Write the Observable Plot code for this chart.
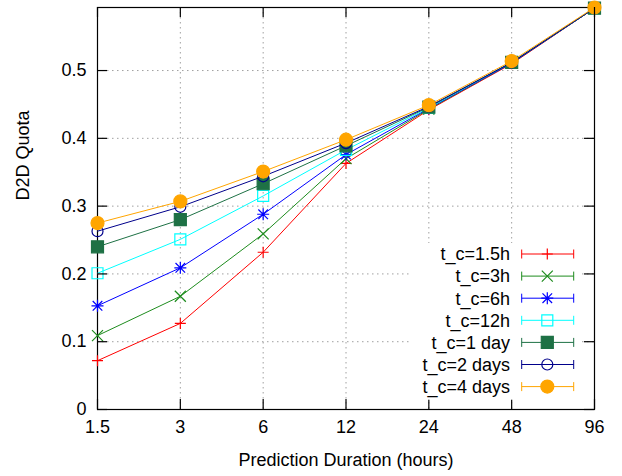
<!DOCTYPE html>
<html><head><meta charset="utf-8">
<script src="https://cdn.jsdelivr.net/npm/d3@7"></script>
<script src="https://cdn.jsdelivr.net/npm/@observablehq/plot@0.6"></script>
<style>
body{margin:0;background:#fff;}
#chart{position:relative;width:622px;height:476px;}
</style>
</head><body><div id="chart"></div>
<script>
// ---- data ----
const durations = [1.5, 3, 6, 12, 24, 48, 96];
const seriesNames = ["t_c=1.5h", "t_c=3h", "t_c=6h", "t_c=12h", "t_c=1 day", "t_c=2 days", "t_c=4 days"];
const quota_1_5h  = [0.072, 0.127, 0.232, 0.363, 0.442, 0.510, 0.592];
const quota_3h    = [0.109, 0.167, 0.259, 0.370, 0.443, 0.511, 0.592];
const quota_6h    = [0.153, 0.209, 0.288, 0.376, 0.444, 0.511, 0.592];
const quota_12h   = [0.201, 0.251, 0.315, 0.383, 0.445, 0.512, 0.592];
const quota_1day  = [0.240, 0.280, 0.333, 0.389, 0.446, 0.512, 0.592];
const quota_2days = [0.263, 0.299, 0.344, 0.393, 0.447, 0.512, 0.592];
const quota_4days = [0.275, 0.307, 0.351, 0.398, 0.449, 0.514, 0.593];
const xTickLabels = ["1.5", "3", "6", "12", "24", "48", "96"];
const yTicks = [0, 0.1, 0.2, 0.3, 0.4, 0.5];
const yTickLabels = ["0", "0.1", "0.2", "0.3", "0.4", "0.5"];
const xLabel = "Prediction Duration (hours)";
const yLabel = "D2D Quota";

// ---- styles / layout ----
const W = 622, H = 476, ML = 97, MR = 28, MT = 7, MB = 67;
const frameW = W - ML - MR, frameH = H - MT - MB, tickLen = 10;
const colors = ["#ff0000", "#1e8c1e", "#0000ff", "#00ffff", "#1e7145", "#00008b", "#ffa500"];
const symDefs = {
  plus: {draw(c, s){const h=Math.sqrt(s/Math.PI); c.moveTo(-h,0); c.lineTo(h,0); c.moveTo(0,-h); c.lineTo(0,h);}},
  times: {draw(c, s){const h=Math.sqrt(s/Math.PI); c.moveTo(-h,-h); c.lineTo(h,h); c.moveTo(-h,h); c.lineTo(h,-h);}},
  star: {draw(c, s){const h=Math.sqrt(s/Math.PI); const d=h*0.8; c.moveTo(-h,0); c.lineTo(h,0); c.moveTo(0,-h); c.lineTo(0,h); c.moveTo(-d,-d); c.lineTo(d,d); c.moveTo(-d,d); c.lineTo(d,-d);}},
  square: {draw(c, s){const h=Math.sqrt(s/Math.PI); c.moveTo(-h,-h); c.lineTo(h,-h); c.lineTo(h,h); c.lineTo(-h,h); c.closePath();}},
  circle: {draw(c, s){const h=Math.sqrt(s/Math.PI); c.moveTo(h,0); c.arc(0,0,h,0,2*Math.PI);}}
};
const markerStyles = [
  {symbol: symDefs.plus,   r: 5.5, filled: false},
  {symbol: symDefs.times,  r: 5.5, filled: false},
  {symbol: symDefs.star,   r: 6,   filled: false},
  {symbol: symDefs.square, r: 5.5, filled: false},
  {symbol: symDefs.square, r: 6,   filled: true},
  {symbol: symDefs.circle, r: 5.5, filled: false},
  {symbol: symDefs.circle, r: 6.5, filled: true}
];
const allSeries = [quota_1_5h, quota_3h, quota_6h, quota_12h, quota_1day, quota_2days, quota_4days];
const rows = allSeries.map((vals, si) => vals.map((v, i) => ({series: seriesNames[si], x: durations[i], y: v})));

const font = "'Liberation Sans', Arial, Helvetica, sans-serif";
const gridStyle = {stroke: "#a0a0a0", strokeOpacity: 1, strokeWidth: 1, strokeDasharray: "1.5,3.5"};
const tickStyle = {stroke: "#000", strokeWidth: 1.2};

const seriesMarks = rows.flatMap((data, si) => {
  const m = markerStyles[si];
  return [
    Plot.line(data, {x: "x", y: "y", stroke: colors[si], strokeWidth: 1}),
    Plot.dot(data, {x: "x", y: "y", symbol: m.symbol, r: m.r,
      fill: m.filled ? colors[si] : "none", stroke: colors[si], strokeWidth: 1.2})
  ];
});

const plot = Plot.plot({
  width: W, height: H,
  marginLeft: ML, marginRight: MR, marginTop: MT, marginBottom: MB,
  style: {fontFamily: font, fontSize: "18px", color: "#000", background: "#fff"},
  x: {type: "log", domain: [1.5, 96], axis: null},
  y: {domain: [0, 0.593], axis: null},
  marks: [
    Plot.gridX(durations, {x: (d) => d, ...gridStyle}),
    Plot.gridY(yTicks.slice(1), {y: (d) => d, ...gridStyle}),
    Plot.frame({stroke: "#000", strokeWidth: 1.2}),
    ...seriesMarks,
    // inward ticks on all four sides
    Plot.tickX(durations, {x: (d) => d, insetTop: frameH - tickLen, ...tickStyle}),
    Plot.tickX(durations, {x: (d) => d, insetBottom: frameH - tickLen, ...tickStyle}),
    Plot.tickY(yTicks, {y: (d) => d, insetRight: frameW - tickLen, ...tickStyle}),
    Plot.tickY(yTicks, {y: (d) => d, insetLeft: frameW - tickLen, ...tickStyle}),
    // tick labels
    Plot.text(durations, {x: (d) => d, frameAnchor: "bottom", dy: 23.5,
      text: (d, i) => xTickLabels[i], fill: "#000", fontSize: 18}),
    Plot.text(yTicks, {y: (d) => d, frameAnchor: "left", dx: -11, textAnchor: "end",
      text: (d, i) => yTickLabels[i], fill: "#000", fontSize: 18}),
    // axis titles
    Plot.text([xLabel], {frameAnchor: "bottom", dy: 56, text: (d) => d, fill: "#000", fontSize: 18}),
    Plot.text([yLabel], {frameAnchor: "left", dx: -74, dy: -8, rotate: -90, text: (d) => d, fill: "#000", fontSize: 18})
  ]
});

// ---- legend (gnuplot-style key with errorbar samples) ----
const svg = d3.select(plot);
const key = svg.append("g").attr("font-family", font).attr("font-size", 18);
const keyTop = 243, rowH = 22.1, firstRow = 254;
key.append("rect").attr("x", 410).attr("y", keyTop).attr("width", 170)
  .attr("height", rowH * seriesNames.length + 2).attr("fill", "#fff");
seriesNames.forEach((name, i) => {
  const cy = firstRow + i * rowH;
  const g = key.append("g").attr("transform", `translate(0,${cy})`);
  g.append("text").attr("x", 510).attr("y", 0).attr("dy", "0.35em").attr("text-anchor", "end").attr("fill", "#000").text(name);
  g.append("line").attr("x1", 521.7).attr("x2", 573.7).attr("y1", 0).attr("y2", 0).attr("stroke", colors[i]);
  g.append("line").attr("x1", 521.7).attr("x2", 521.7).attr("y1", -4.5).attr("y2", 4.5).attr("stroke", colors[i]);
  g.append("line").attr("x1", 573.7).attr("x2", 573.7).attr("y1", -4.5).attr("y2", 4.5).attr("stroke", colors[i]);
  const m = markerStyles[i];
  g.append("path").attr("transform", "translate(547.3,0)")
    .attr("d", d3.symbol(m.symbol, Math.PI * m.r * m.r)())
    .attr("fill", m.filled ? colors[i] : "none").attr("stroke", colors[i]).attr("stroke-width", 1.2);
});

document.getElementById("chart").appendChild(plot);
</script>
</body></html>
